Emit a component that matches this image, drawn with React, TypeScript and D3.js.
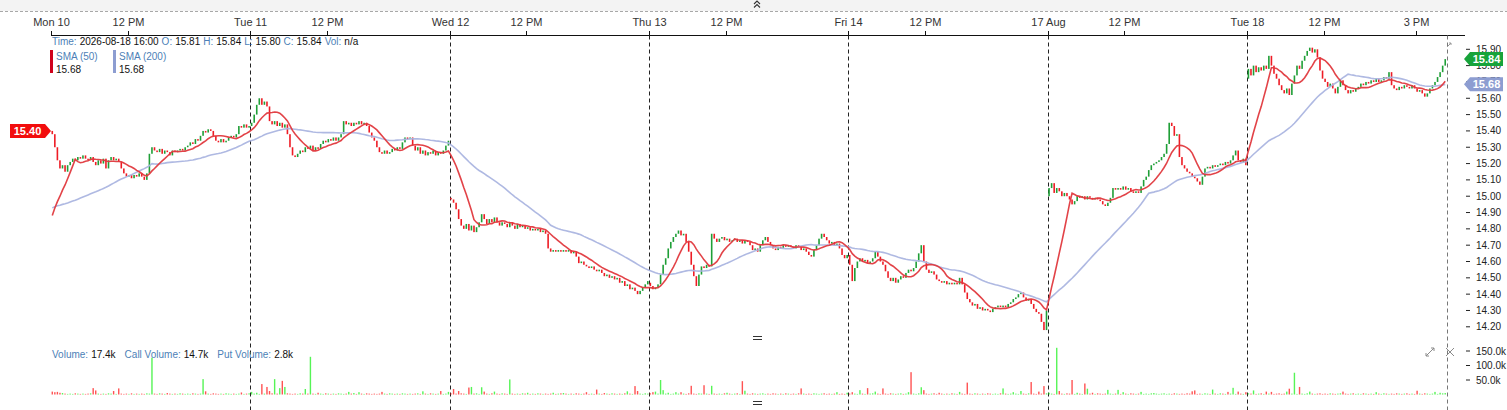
import React, { useEffect, useRef } from 'react';
import * as d3 from 'd3';

// 5-minute closes per session (78 bars, 9:30 - 16:00)
const priorCloses = [
  15.01, 15.0, 15.02, 14.99, 15.01, 15.0, 14.98, 14.99, 15.0, 14.98, 14.97, 14.99, 14.98,
  14.96, 14.97, 14.95, 14.96, 14.94, 14.93, 14.94, 14.89, 14.9, 14.88, 14.89, 14.87, 14.88,
  14.86, 14.87, 14.85, 14.86, 14.84, 14.83, 14.84, 14.82, 14.83, 14.81, 14.82, 14.83, 14.82,
];

const mon10 = [
  15.38, 15.3, 15.22, 15.17, 15.19, 15.15, 15.19, 15.21, 15.23, 15.22, 15.24, 15.23, 15.25,
  15.23, 15.22, 15.24, 15.21, 15.19, 15.22, 15.2, 15.23, 15.17, 15.22, 15.24, 15.22, 15.23,
  15.21, 15.17, 15.14, 15.12, 15.13, 15.11, 15.13, 15.12, 15.14, 15.12, 15.1, 15.14, 15.26,
  15.3, 15.28, 15.27, 15.29, 15.26, 15.28, 15.27, 15.25, 15.28, 15.27, 15.28, 15.29, 15.28,
  15.3, 15.31, 15.33, 15.32, 15.35, 15.34, 15.37, 15.4, 15.39, 15.41, 15.4, 15.37, 15.34,
  15.33, 15.35, 15.33, 15.34, 15.36, 15.37, 15.36, 15.38, 15.43, 15.42, 15.44, 15.42, 15.43,
];
const tue11 = [
  15.45, 15.5, 15.56, 15.6, 15.56, 15.58, 15.55, 15.46, 15.44, 15.46, 15.43, 15.45, 15.42,
  15.44, 15.38, 15.3, 15.25, 15.24, 15.26, 15.28, 15.27, 15.3, 15.29, 15.31, 15.28, 15.3,
  15.29, 15.32, 15.34, 15.33, 15.35, 15.34, 15.36, 15.34, 15.36, 15.38, 15.46, 15.44, 15.45,
  15.43, 15.45, 15.44, 15.46, 15.44, 15.45, 15.43, 15.39, 15.36, 15.34, 15.3, 15.27, 15.26,
  15.28, 15.26, 15.27, 15.29, 15.28, 15.3, 15.29, 15.33, 15.36, 15.35, 15.36, 15.31, 15.28,
  15.3, 15.26, 15.28, 15.25, 15.27, 15.26, 15.28, 15.25, 15.27, 15.26, 15.28, 15.31, 15.34,
];
const wed12 = [
  14.98, 14.96, 14.92, 14.86, 14.82, 14.8, 14.83, 14.79, 14.82, 14.78, 14.81, 14.84, 14.89,
  14.86, 14.83, 14.86, 14.84, 14.87, 14.84, 14.82, 14.84, 14.83, 14.81, 14.84, 14.82, 14.8,
  14.83, 14.81, 14.82, 14.8, 14.81, 14.79, 14.8, 14.79, 14.8, 14.78, 14.79, 14.77, 14.68,
  14.66, 14.67, 14.66, 14.67, 14.66, 14.67, 14.66, 14.67, 14.65, 14.66, 14.63, 14.59, 14.6,
  14.58, 14.57, 14.56, 14.57, 14.55, 14.54, 14.55, 14.53, 14.51, 14.52, 14.5, 14.51, 14.49,
  14.5, 14.47, 14.48, 14.45, 14.46, 14.43, 14.44, 14.42, 14.4, 14.42, 14.44, 14.46, 14.48,
];
const thu13 = [
  14.45, 14.43, 14.44, 14.46, 14.52, 14.58, 14.62, 14.68, 14.72, 14.75, 14.77, 14.79, 14.76,
  14.77, 14.72, 14.66, 14.58, 14.51, 14.45, 14.52, 14.57, 14.56, 14.58, 14.57, 14.77, 14.74,
  14.72, 14.74, 14.75, 14.73, 14.74, 14.72, 14.73, 14.74, 14.72, 14.73, 14.71, 14.73, 14.72,
  14.7, 14.67, 14.68, 14.66, 14.7, 14.73, 14.75, 14.72, 14.7, 14.68, 14.67, 14.69, 14.68,
  14.7, 14.69, 14.7, 14.69, 14.68, 14.7, 14.69, 14.67, 14.68, 14.66, 14.64, 14.63, 14.67,
  14.7, 14.74, 14.77, 14.75, 14.73, 14.71, 14.72, 14.7, 14.71, 14.68, 14.64, 14.62, 14.64,
];
const fri14 = [
  14.58, 14.48, 14.56, 14.6, 14.62, 14.6, 14.61, 14.59, 14.6, 14.62, 14.66, 14.63, 14.6,
  14.58, 14.54, 14.5, 14.48, 14.5, 14.47, 14.49, 14.51, 14.5, 14.53, 14.55, 14.54, 14.56,
  14.6, 14.65, 14.7, 14.6, 14.55, 14.53, 14.54, 14.52, 14.49, 14.48, 14.47, 14.48, 14.46,
  14.47, 14.46, 14.47, 14.46, 14.5, 14.46, 14.41, 14.37, 14.35, 14.33, 14.34, 14.31, 14.32,
  14.3, 14.31, 14.3, 14.29, 14.31, 14.32, 14.33, 14.32, 14.33, 14.32, 14.34, 14.35, 14.37,
  14.38, 14.4, 14.41, 14.38, 14.36, 14.37, 14.34, 14.31, 14.29, 14.28, 14.23, 14.18, 14.3,
];
const mon17 = [
  15.05, 15.08, 15.02, 15.05, 15.03, 15.0, 15.02, 15.0, 14.98, 14.95, 14.97, 15.0, 14.99,
  15.0, 14.98, 15.0, 14.99, 14.98, 14.99, 14.98, 14.97, 14.95, 14.94, 14.96, 14.99, 15.05,
  15.04, 15.05, 15.04, 15.06, 15.04, 15.05, 15.03, 15.02, 15.03, 15.02, 15.06, 15.1, 15.12,
  15.16, 15.19, 15.2, 15.21, 15.22, 15.24, 15.26, 15.32, 15.45, 15.43, 15.37, 15.38, 15.24,
  15.19, 15.17, 15.15, 15.14, 15.12, 15.11, 15.09, 15.07, 15.12, 15.17, 15.18, 15.17, 15.19,
  15.18, 15.19, 15.2, 15.19, 15.21, 15.2, 15.22, 15.25, 15.28, 15.22, 15.21, 15.23, 15.19,
];
const tue18 = [
  15.78, 15.74, 15.8, 15.76, 15.79, 15.77, 15.8, 15.78, 15.86, 15.8, 15.75, 15.72, 15.68,
  15.65, 15.63, 15.66, 15.62, 15.69, 15.74, 15.8, 15.78, 15.83, 15.86, 15.89, 15.91, 15.88,
  15.9, 15.85, 15.77, 15.72, 15.7, 15.67, 15.69, 15.66, 15.63, 15.67, 15.71, 15.68, 15.65,
  15.63, 15.65, 15.64, 15.66, 15.67, 15.69, 15.68, 15.7, 15.69, 15.71, 15.7, 15.72, 15.7,
  15.71, 15.73, 15.72, 15.76, 15.68, 15.66, 15.65, 15.67, 15.66, 15.68, 15.67, 15.66, 15.68,
  15.66, 15.64, 15.65, 15.63, 15.61, 15.63, 15.66, 15.68, 15.7, 15.73, 15.76, 15.8, 15.84,
];

// first print of each session
const sessionOpens = [15.4, 15.43, 14.99, 14.47, 14.64, 15.0, 15.72];

// volume per 5-minute bar, thousands
const volMon10 = [
  10, 8, 9, 6, 5, 3, 2, 3, 2, 4, 3, 2, 3, 2, 3, 4, 22, 14, 3, 2, 3, 2, 4, 3, 12, 2,
  21, 3, 2, 3, 2, 4, 2, 3, 2, 3, 2, 4, 3, 127, 3, 2, 4, 3, 2, 5, 3, 2, 3, 2, 4, 3,
  2, 3, 2, 4, 3, 2, 3, 53, 11, 3, 2, 4, 3, 2, 3, 2, 4, 3, 2, 3, 2, 3, 7, 2, 3, 4,
];
const volTue11 = [
  9, 3, 6, 2, 36, 3, 26, 12, 4, 53, 3, 22, 47, 26, 4, 3, 2, 3, 2, 4, 3, 19, 3, 130, 3, 2,
  6, 3, 2, 4, 3, 2, 3, 2, 4, 3, 2, 3, 9, 3, 5, 2, 8, 3, 2, 4, 3, 2, 3, 2, 3, 9,
  3, 2, 4, 3, 2, 3, 2, 4, 3, 2, 3, 2, 3, 4, 2, 11, 3, 2, 4, 3, 2, 3, 12, 2, 3, 9,
];
const volWed12 = [
  4, 19, 3, 12, 4, 3, 2, 24, 26, 3, 4, 2, 25, 10, 3, 2, 4, 10, 3, 2, 4, 3, 2, 52, 3, 2,
  3, 2, 4, 3, 6, 2, 3, 2, 4, 3, 2, 3, 2, 3, 6, 2, 3, 4, 5, 3, 2, 3, 2, 4, 3, 2,
  3, 8, 2, 3, 2, 17, 3, 2, 5, 3, 2, 4, 3, 2, 3, 2, 4, 11, 3, 2, 29, 12, 3, 2, 4, 3,
];
const volThu13 = [
  4, 8, 10, 3, 50, 15, 3, 6, 2, 3, 8, 3, 8, 3, 2, 4, 30, 3, 2, 4, 3, 32, 3, 2, 30, 3,
  2, 3, 2, 4, 6, 3, 2, 3, 4, 2, 46, 13, 3, 2, 4, 3, 2, 3, 4, 2, 3, 2, 4, 3, 2, 3,
  2, 4, 3, 2, 3, 2, 4, 21, 3, 2, 3, 2, 4, 3, 2, 3, 4, 2, 3, 2, 3, 8, 2, 3, 2, 6,
];
const volFri14 = [
  3, 8, 3, 2, 15, 3, 2, 22, 3, 4, 10, 3, 2, 21, 3, 2, 4, 3, 2, 3, 4, 2, 3, 8, 77, 3,
  2, 4, 25, 15, 3, 2, 3, 4, 2, 6, 3, 2, 3, 2, 4, 3, 2, 9, 3, 2, 41, 3, 2, 4, 3, 2,
  3, 2, 4, 3, 2, 3, 2, 4, 21, 3, 2, 3, 8, 3, 2, 12, 3, 2, 4, 43, 3, 2, 10, 3, 29, 4,
];
const volMon17 = [
  6, 3, 2, 161, 12, 3, 2, 4, 3, 50, 2, 6, 3, 2, 38, 20, 3, 6, 2, 4, 3, 2, 3, 16, 3, 2,
  3, 16, 2, 8, 3, 2, 4, 3, 2, 3, 9, 2, 3, 2, 4, 5, 3, 2, 3, 4, 2, 3, 2, 4, 3, 2,
  3, 2, 4, 3, 11, 14, 2, 3, 2, 4, 3, 2, 17, 3, 2, 4, 3, 2, 9, 3, 23, 2, 10, 3, 2, 8,
];
const volTue18 = [
  4, 3, 14, 2, 3, 4, 2, 10, 3, 9, 2, 3, 4, 2, 3, 10, 20, 3, 75, 2, 26, 3, 2, 4, 10, 3,
  2, 3, 4, 2, 3, 2, 4, 3, 2, 3, 4, 10, 3, 2, 3, 4, 2, 3, 2, 4, 3, 2, 3, 2, 8, 3,
  2, 4, 3, 2, 3, 2, 4, 3, 2, 3, 4, 2, 3, 2, 13, 3, 2, 4, 3, 2, 3, 9, 2, 6, 4, 5,
];

const sessions = [mon10, tue11, wed12, thu13, fri14, mon17, tue18];
const sessionVolumes = [volMon10, volTue11, volWed12, volThu13, volFri14, volMon17, volTue18];
const dayLabels = ['Mon 10', 'Tue 11', 'Wed 12', 'Thu 13', 'Fri 14', '17 Aug', 'Tue 18'];
const noonLabel = '12 PM';
const lastDayExtraLabel = '3 PM';
const priceTicks = [14.2, 14.3, 14.4, 14.5, 14.6, 14.7, 14.8, 14.9, 15.0, 15.1, 15.2, 15.3, 15.4, 15.5, 15.6, 15.7, 15.8, 15.9];
const volumeTicks = [50, 100, 150];

const legendOHLC = [
  ['Time:', '2026-08-18 16:00'],
  ['O:', '15.81'],
  ['H:', '15.84'],
  ['L:', '15.80'],
  ['C:', '15.84'],
  ['Vol:', 'n/a'],
];
const legendVolume = [
  ['Volume:', '17.4k'],
  ['Call Volume:', '14.7k'],
  ['Put Volume:', '2.8k'],
];
const smaLegend = [
  { name: 'SMA (50)', period: 10, value: '15.68', color: '#d0021b', line: '#e0393e' },
  { name: 'SMA (200)', period: 40, value: '15.68', color: '#8d9dd1', line: '#abb5e0' },
];
const lastClose = 15.84;
const firstOpen = 15.4;

const BARS_PER_DAY = 78;
const FONT = '"Liberation Sans", Arial, sans-serif';
const LABEL_BLUE = '#4d7fb7';
const UP = '#1f9f37';
const DOWN = '#ee1c25';

interface Bar {
  i: number;
  open: number;
  close: number;
  volume: number;
}

const App: React.FC = () => {
  const svgRef = useRef<SVGSVGElement>(null);
  const width = 1507;
  const height = 410;

  useEffect(() => {
    if (!svgRef.current) return;
    const svg = d3.select(svgRef.current);
    svg.selectAll('*').remove();

    // Build bars
    const bars: Bar[] = [];
    sessions.forEach((closes, d) => {
      closes.forEach((c, k) => {
        const prev = k === 0 ? sessionOpens[d] : closes[k - 1];
        bars.push({ i: d * BARS_PER_DAY + k, open: prev, close: c, volume: sessionVolumes[d][k] });
      });
    });
    const nBars = bars.length;
    const allCloses = [...priorCloses, ...bars.map(b => b.close)];
    const P = priorCloses.length;

    // Scales
    const x = d3.scaleLinear().domain([0, nBars]).range([51, 1446.5]);
    const y = d3.scaleLinear().domain([14.2, 15.9]).range([326.8, 49.3]);
    const yVol = d3.scaleLinear().domain([0, 150]).range([394.5, 351]);

    // Top band
    svg.append('rect').attr('x', 0).attr('y', 0).attr('width', width).attr('height', 11).attr('fill', '#f3f3f3');
    svg.append('line').attr('x1', 0).attr('x2', width).attr('y1', 11.5).attr('y2', 11.5)
      .attr('stroke', '#a8a8a8').attr('stroke-dasharray', '3,2');
    const chev = svg.append('g').attr('transform', 'translate(757,5)').attr('fill', 'none')
      .attr('stroke', '#333').attr('stroke-width', 1.1);
    chev.append('path').attr('d', 'M-3,-1 L0,-4 L3,-1');
    chev.append('path').attr('d', 'M-3,2.5 L0,-0.5 L3,2.5');

    // Time axis
    const axisY = 35.5;
    svg.append('line').attr('x1', 51).attr('x2', 1465).attr('y1', axisY).attr('y2', axisY)
      .attr('stroke', '#111').attr('stroke-width', 1);
    const timeTicks: { bar: number; label: string }[] = [];
    dayLabels.forEach((lab, d) => {
      timeTicks.push({ bar: d * BARS_PER_DAY, label: lab });
      timeTicks.push({ bar: d * BARS_PER_DAY + 30, label: noonLabel });
    });
    timeTicks.push({ bar: (dayLabels.length - 1) * BARS_PER_DAY + 66, label: lastDayExtraLabel });
    const tg = svg.append('g');
    timeTicks.forEach(t => {
      const tx = Math.round(x(t.bar)) + 0.5;
      tg.append('line').attr('x1', tx).attr('x2', tx).attr('y1', 31).attr('y2', axisY)
        .attr('stroke', '#111');
      tg.append('text').attr('x', tx).attr('y', 26).attr('text-anchor', 'middle')
        .style('font-family', FONT).style('font-size', '11px').style('fill', '#333')
        .text(t.label);
    });

    // Day separators
    for (let d = 1; d <= sessions.length; d++) {
      const sx = Math.round(x(d * BARS_PER_DAY)) + 0.5;
      svg.append('line').attr('x1', sx).attr('x2', sx).attr('y1', axisY).attr('y2', height)
        .attr('stroke', d === sessions.length ? '#777' : '#222').attr('stroke-width', 1)
        .attr('stroke-dasharray', '4,3');
    }

    // Volume bars
    svg.append('g').selectAll('rect').data(bars).join('rect')
      .attr('x', b => x(b.i + 0.5) - 0.7)
      .attr('width', 1.4)
      .attr('y', b => yVol(b.volume))
      .attr('height', b => yVol(0) - yVol(b.volume))
      .attr('fill', b => (b.close >= b.open ? '#1ef01e' : '#ff1a1a'))
      .attr('opacity', 0.75);

    // Candles
    svg.append('g').selectAll('rect').data(bars).join('rect')
      .attr('x', b => x(b.i + 0.5) - 0.8)
      .attr('width', 1.6)
      .attr('y', b => y(Math.max(b.open, b.close)))
      .attr('height', b => Math.max(1, Math.abs(y(b.open) - y(b.close))))
      .attr('fill', b => (b.close >= b.open ? UP : DOWN));

    // SMAs
    const smaLine = d3.line<number>().x((_, i) => x(i + 0.5)).y(v => y(v));
    [...smaLegend].reverse().forEach(s => {
      const vals = bars.map((_, i) => d3.mean(allCloses.slice(i + P - s.period + 1, i + P + 1)) as number);
      svg.append('path').datum(vals).attr('fill', 'none').attr('stroke', s.line)
        .attr('stroke-width', 1.6).attr('opacity', 0.95).attr('d', smaLine);
    });

    // Price axis
    const pa = svg.append('g');
    priceTicks.forEach(p => {
      const py = y(p);
      pa.append('line').attr('x1', 1466).attr('x2', 1470).attr('y1', py).attr('y2', py).attr('stroke', '#222');
      pa.append('text').attr('x', 1476).attr('y', py).attr('dy', '0.35em')
        .style('font-family', FONT).style('font-size', '10px').style('fill', '#222')
        .text(p.toFixed(2));
    });
    volumeTicks.forEach(v => {
      const vy = yVol(v);
      pa.append('line').attr('x1', 1466).attr('x2', 1470).attr('y1', vy).attr('y2', vy).attr('stroke', '#222');
      pa.append('text').attr('x', 1476).attr('y', vy).attr('dy', '0.35em')
        .style('font-family', FONT).style('font-size', '10px').style('fill', '#222')
        .text(`${v.toFixed(1)}k`);
    });

    // Price flags
    const flag = (px: number, value: string, color: string, yy: number, w: number, pointLeft: boolean) => {
      const h = 14;
      const g = svg.append('g');
      const pathD = pointLeft
        ? `M${px},${yy} L${px + 6},${yy - h / 2} L${px + w},${yy - h / 2} L${px + w},${yy + h / 2} L${px + 6},${yy + h / 2} Z`
        : `M${px},${yy} L${px - 6},${yy - h / 2} L${px - w},${yy - h / 2} L${px - w},${yy + h / 2} L${px - 6},${yy + h / 2} Z`;
      g.append('path').attr('d', pathD).attr('fill', color);
      g.append('text').attr('x', pointLeft ? px + 6 + (w - 6) / 2 : px - 6 - (w - 6) / 2)
        .attr('y', yy).attr('dy', '0.35em').attr('text-anchor', 'middle')
        .style('font-family', FONT).style('font-size', '11px').style('font-weight', 'bold')
        .style('fill', '#fff').text(value);
    };
    const lastSma200 = d3.mean(allCloses.slice(allCloses.length - 40)) as number;
    flag(1464, smaLegend[1].value, '#8d9dd1', y(lastSma200), 39, true);
    flag(1464, lastClose.toFixed(2), '#17a33a', y(lastClose), 39, true);
    flag(51, firstOpen.toFixed(2), '#f20d0d', y(firstOpen), 41, false);

    // OHLC legend
    const leg = svg.append('text').attr('x', 52).attr('y', 45)
      .style('font-family', FONT).style('font-size', '10px');
    legendOHLC.forEach(([k, v], i) => {
      leg.append('tspan').attr('dx', i === 0 ? 0 : 3).style('fill', LABEL_BLUE).text(k);
      leg.append('tspan').attr('dx', 3).style('fill', '#111').text(v);
    });

    // SMA legend
    smaLegend.forEach((s, i) => {
      const lx = 50 + i * 63;
      svg.append('rect').attr('x', lx).attr('y', 50).attr('width', 3).attr('height', 23).attr('fill', s.color);
      svg.append('text').attr('x', lx + 6).attr('y', 60)
        .style('font-family', FONT).style('font-size', '10px').style('fill', LABEL_BLUE).text(s.name);
      svg.append('text').attr('x', lx + 6).attr('y', 73)
        .style('font-family', FONT).style('font-size', '10px').style('fill', '#111').text(s.value);
    });

    // Volume legend
    const vleg = svg.append('text').attr('x', 52).attr('y', 358)
      .style('font-family', FONT).style('font-size', '10px');
    legendVolume.forEach(([k, v], i) => {
      vleg.append('tspan').attr('dx', i === 0 ? 0 : 9).style('fill', LABEL_BLUE).text(k);
      vleg.append('tspan').attr('dx', 3).style('fill', '#111').text(v);
    });

    // Pane handles and icons
    [338, 403].forEach(hy => {
      svg.append('line').attr('x1', 753).attr('x2', 762).attr('y1', hy - 1.5).attr('y2', hy - 1.5).attr('stroke', '#333');
      svg.append('line').attr('x1', 753).attr('x2', 762).attr('y1', hy + 1.5).attr('y2', hy + 1.5).attr('stroke', '#333');
    });
    const icons = svg.append('g').attr('stroke', '#8a8a8a').attr('fill', 'none').attr('stroke-width', 1);
    icons.append('path').attr('d', 'M1426,356 L1434,348 M1431,348 L1434,348 L1434,351 M1426,353 L1426,356 L1429,356');
    icons.append('path').attr('d', 'M1446,348 L1454,356 M1454,348 L1446,356');
    icons.append('path').attr('d', 'M1447,47 L1451,43 M1449,43 L1451,43 L1451,45').attr('stroke', '#999');
  }, []);

  return (
    <div style={{ position: 'absolute', left: 0, top: 0, width, height, background: '#fff' }}>
      <svg ref={svgRef} width={width} height={height} style={{ display: 'block' }} />
    </div>
  );
};

export default App;
